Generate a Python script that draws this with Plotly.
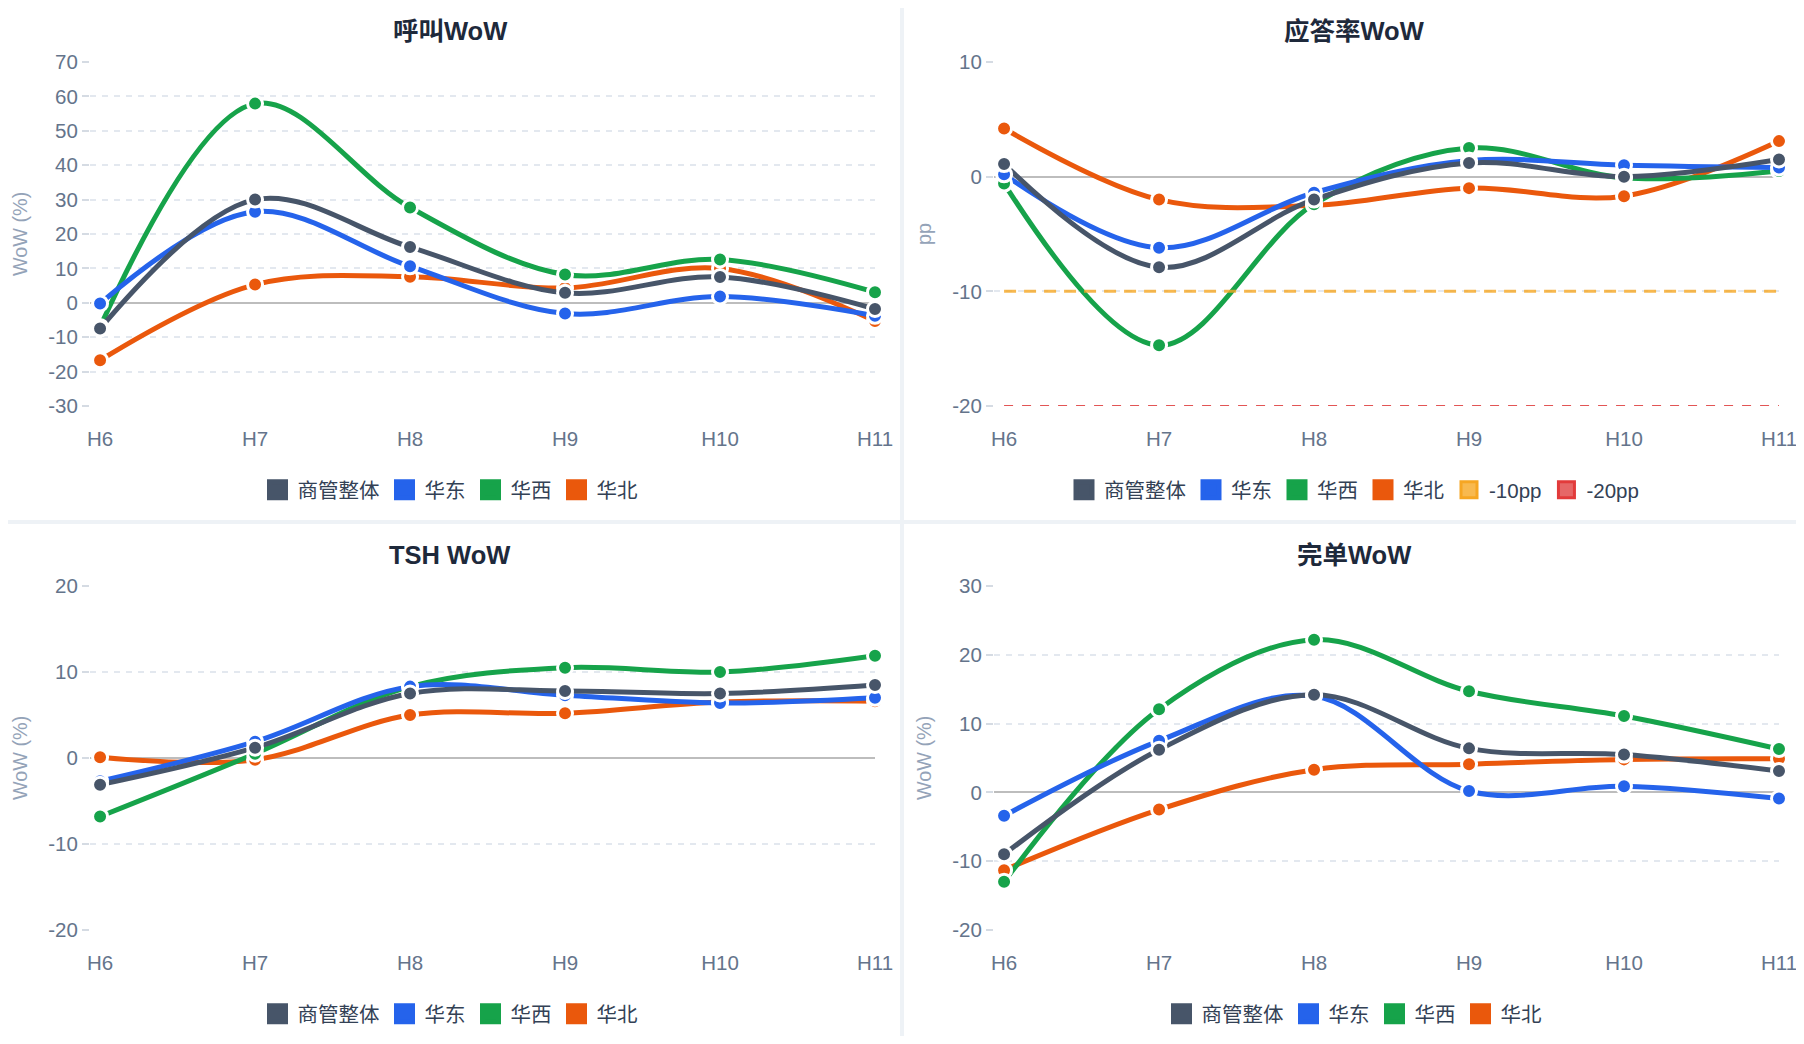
import plotly.graph_objects as go
from plotly.subplots import make_subplots

# categories and series
hours = ["H6", "H7", "H8", "H9", "H10", "H11"]
series_names = ["商管整体", "华东", "华西", "华北"]
series_colors = ["#475569", "#2563eb", "#16a34a", "#ea580c"]

# 呼叫WoW (%)
call_total = [-7.5, 30.0, 16.2, 2.9, 7.5, -1.8]
call_east = [-0.2, 26.5, 10.6, -3.1, 1.8, -3.8]
call_west = [-7.0, 57.9, 27.7, 8.2, 12.6, 3.1]
call_north = [-16.7, 5.3, 7.6, 4.3, 10.0, -5.3]
call_ticks = [-30, -20, -10, 0, 10, 20, 30, 40, 50, 60, 70]

# 应答率WoW (pp)
answer_total = [1.1, -7.9, -2.0, 1.2, 0.0, 1.5]
answer_east = [0.2, -6.2, -1.4, 1.4, 1.0, 0.8]
answer_west = [-0.6, -14.7, -2.4, 2.5, -0.1, 0.5]
answer_north = [4.2, -2.0, -2.5, -1.0, -1.7, 3.1]
answer_ticks = [-20, -10, 0, 10]
ref_values = [-10, -20]
ref_names = ["-10pp", "-20pp"]

# TSH WoW (%)
tsh_total = [-3.1, 1.2, 7.5, 7.8, 7.5, 8.5]
tsh_east = [-2.7, 1.9, 8.3, 7.3, 6.4, 7.0]
tsh_west = [-6.8, 0.5, 8.3, 10.5, 10.0, 11.9]
tsh_north = [0.1, -0.2, 5.0, 5.2, 6.5, 6.6]
tsh_ticks = [-20, -10, 0, 10, 20]

# 完单WoW (%)
done_total = [-9.0, 6.2, 14.2, 6.4, 5.5, 3.1]
done_east = [-3.4, 7.5, 14.0, 0.2, 0.9, -0.9]
done_west = [-13.0, 12.1, 22.2, 14.7, 11.1, 6.3]
done_north = [-11.3, -2.5, 3.3, 4.1, 4.8, 4.9]
done_ticks = [-20, -10, 0, 10, 20, 30]

FONT = "Liberation Sans, Noto Sans CJK SC, sans-serif"
W, H, OFF = 1788, 1028, 8   # page has an 8px body margin


def px(x):
    return (x - OFF) / W


def py(y):
    return 1 - (y - OFF) / H


panels = [
    dict(title="呼叫WoW", ytitle="WoW (%)", data=[call_total, call_east, call_west, call_north],
         ticks=call_ticks, dx=0, dy=0),
    dict(title="应答率WoW", ytitle="pp", data=[answer_total, answer_east, answer_west, answer_north],
         ticks=answer_ticks, dx=904, dy=0),
    dict(title="TSH WoW", ytitle="WoW (%)", data=[tsh_total, tsh_east, tsh_west, tsh_north],
         ticks=tsh_ticks, dx=0, dy=524),
    dict(title="完单WoW", ytitle="WoW (%)", data=[done_total, done_east, done_west, done_north],
         ticks=done_ticks, dx=904, dy=524),
]

fig = make_subplots(rows=2, cols=2)
annotations = []

for i, p in enumerate(panels):
    row, col = i // 2 + 1, i % 2 + 1
    leg = "legend" if i == 0 else "legend%d" % (i + 1)
    dx, dy = p["dx"], p["dy"]

    # lines (overall series drawn last so it sits on top)
    for k in reversed(range(4)):
        fig.add_trace(go.Scatter(
            x=hours, y=p["data"][k], mode="lines", showlegend=False, hoverinfo="skip",
            line=dict(color=series_colors[k], width=5, shape="spline", smoothing=1),
            cliponaxis=False), row=row, col=col)

    if i == 1:
        ref_styles = [dict(color="rgba(245,166,35,0.8)", width=3, dash="12px,8px"),
                      dict(color="#e25555", width=2.2, dash="9px,9px")]
        for v, st in zip(ref_values, ref_styles):
            fig.add_trace(go.Scatter(
                x=[hours[0], hours[-1]], y=[v, v], mode="lines", showlegend=False,
                hoverinfo="skip", line=st), row=row, col=col)

    for k in reversed(range(4)):
        fig.add_trace(go.Scatter(
            x=hours, y=p["data"][k], mode="markers", showlegend=False,
            marker=dict(color=series_colors[k], size=15, line=dict(color="white", width=3)),
            cliponaxis=False), row=row, col=col)

    # legend entries as squares
    for k in range(4):
        fig.add_trace(go.Scatter(
            x=[None], y=[None], mode="markers", name=series_names[k], legend=leg,
            marker=dict(symbol="square", size=16, color=series_colors[k],
                        line=dict(color=series_colors[k], width=5))), row=row, col=col)
    if i == 1:
        icon_fill = ["rgba(245,158,11,0.72)", "rgba(220,38,38,0.7)"]
        icon_line = ["#f6a623", "#e23b3b"]
        for n, fc, lc in zip(ref_names, icon_fill, icon_line):
            fig.add_trace(go.Scatter(
                x=[None], y=[None], mode="markers", name=n, legend=leg,
                marker=dict(symbol="square", size=16, color=fc, line=dict(color=lc, width=3))),
                row=row, col=col)

    xa = "xaxis" if i == 0 else "xaxis%d" % (i + 1)
    ya = "yaxis" if i == 0 else "yaxis%d" % (i + 1)
    fig.layout[xa].update(
        domain=[px(90 + dx), px(875 + dx)], type="category", categoryarray=hours,
        range=[-0.065, 5], showgrid=False, zeroline=False, showline=False, ticks="",
        tickfont=dict(size=20.5, color="#64748b", family=FONT), ticklabelstandoff=18,
        automargin=False, fixedrange=True)
    fig.layout[ya].update(
        domain=[py(406 + dy), py(62 + dy)], range=[p["ticks"][0], p["ticks"][-1]],
        tickvals=p["ticks"], ticktext=[str(t) for t in p["ticks"]],
        showgrid=True, gridcolor="#e3e8ef", gridwidth=1.5, griddash="6px,6px",
        zeroline=True, zerolinecolor="#bdbdbd", zerolinewidth=2, showline=False,
        ticks="outside", ticklen=7, tickcolor="#d5dbe3", tickwidth=1.5,
        tickfont=dict(size=20.5, color="#64748b", family=FONT), ticklabelstandoff=0,
        automargin=False, fixedrange=True)

    fig.layout[leg] = dict(
        orientation="h", x=px(450 + dx), y=py(490 + dy), xanchor="center", yanchor="middle",
        font=dict(size=20.5, color="#334155", family=FONT), bgcolor="rgba(0,0,0,0)",
        traceorder="normal", itemclick=False, itemdoubleclick=False)

    annotations.append(dict(
        text="<b>%s</b>" % p["title"], x=px(450 + dx), y=py(31 + dy), xref="paper", yref="paper",
        xanchor="center", yanchor="middle", showarrow=False,
        font=dict(size=25.5, color="#1e293b", family=FONT)))
    annotations.append(dict(
        text=p["ytitle"], x=px(20 + dx), y=py(234 + dy), xref="paper", yref="paper",
        xanchor="center", yanchor="middle", showarrow=False, textangle=-90,
        font=dict(size=19.8, color="#94a3b8", family=FONT)))

# light gaps between the four cards
gap = "#eef2f6"
shapes = [
    dict(type="rect", xref="paper", yref="paper", layer="below",
         x0=px(900), x1=px(904), y0=0, y1=1, fillcolor=gap, line=dict(width=0)),
    dict(type="rect", xref="paper", yref="paper", layer="below",
         x0=0, x1=1, y0=py(524), y1=py(520), fillcolor=gap, line=dict(width=0)),
]

fig.update_layout(
    width=W, height=H, margin=dict(l=0, r=0, t=0, b=0, autoexpand=False),
    paper_bgcolor="white", plot_bgcolor="white",
    font=dict(family=FONT), annotations=annotations, shapes=shapes,
    hovermode=False)

fig.write_html("out.html")
